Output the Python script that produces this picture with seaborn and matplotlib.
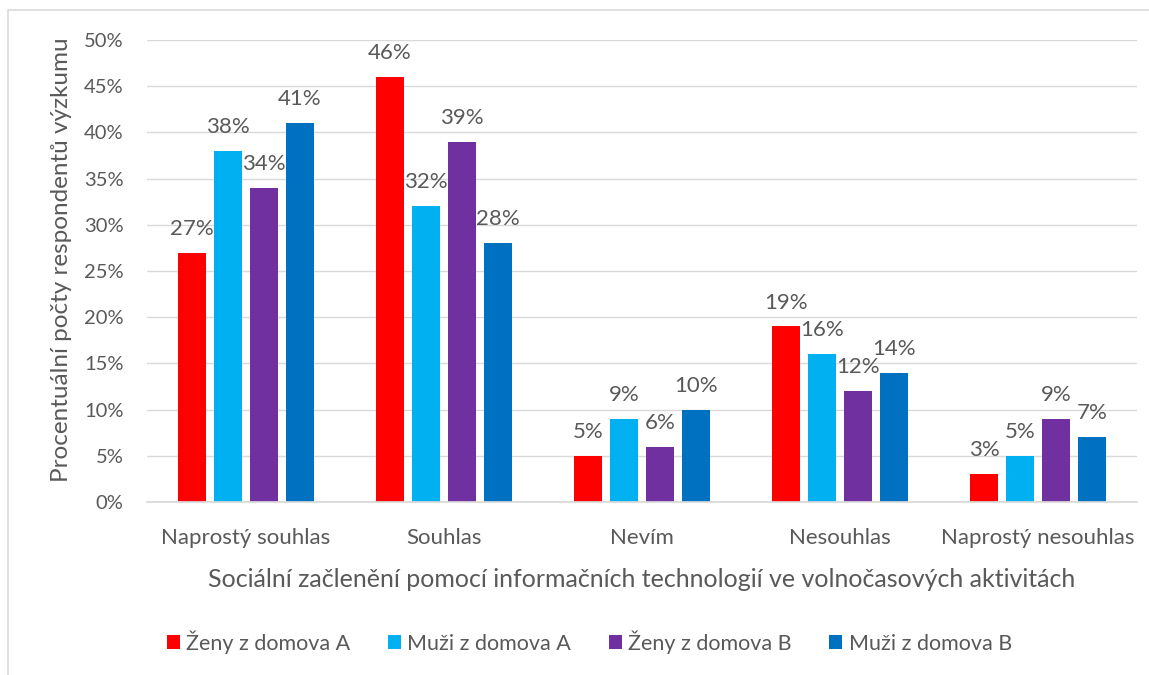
import matplotlib
matplotlib.use("Agg")
import matplotlib.pyplot as plt
import seaborn as sns
import pandas as pd
from matplotlib.patches import Rectangle
from matplotlib.ticker import FuncFormatter

categories = ["Naprostý souhlas", "Souhlas", "Nevím", "Nesouhlas", "Naprostý nesouhlas"]
series_names = ["Ženy z domova A", "Muži z domova A", "Ženy z domova B", "Muži z domova B"]
zeny_a = [27, 46, 5, 19, 3]
muzi_a = [38, 32, 9, 16, 5]
zeny_b = [34, 39, 6, 12, 9]
muzi_b = [41, 28, 10, 14, 7]
colors = ["#FF0000", "#00B0F0", "#7030A0", "#0070C0"]

rows = []
for name, vals in zip(series_names, [zeny_a, muzi_a, zeny_b, muzi_b]):
    for c, v in zip(categories, vals):
        rows.append({"cat": c, "series": name, "val": v})
df = pd.DataFrame(rows)

sns.set_theme(style="white")
plt.rcParams["font.family"] = ["Lato", "DejaVu Sans"]
text_color = "#595959"
fs = 16

fig = plt.figure(figsize=(11.49, 6.75), dpi=100)
ax = fig.add_axes([0.128, 0.2563, 0.8616, 0.6844])

sns.barplot(data=df, x="cat", y="val", hue="series", order=categories,
            hue_order=series_names, palette=colors, width=0.727, gap=0.22,
            ax=ax, legend=True, saturation=1, linewidth=0)

ax.set_ylim(0, 50)
ax.set_yticks(range(0, 51, 5))
ax.yaxis.set_major_formatter(FuncFormatter(lambda v, p: f"{int(v)}%"))
ax.grid(axis="y", color="#D9D9D9", linewidth=1)
ax.set_axisbelow(True)
for s in ["top", "right", "left"]:
    ax.spines[s].set_visible(False)
ax.spines["bottom"].set_color("#D9D9D9")
ax.tick_params(axis="x", length=0, colors=text_color, labelsize=fs, pad=19)
ax.tick_params(axis="y", length=0, colors=text_color, labelsize=14.5, pad=17)
ax.set_xlim(-0.5, 4.5)

for cont in ax.containers:
    ax.bar_label(cont, labels=[f"{int(v)}%" for v in cont.datavalues],
                 padding=10, color=text_color, fontsize=fs)

ax.set_xlabel("Sociální začlenění pomocí informačních technologií ve volnočasových aktivitách",
              fontsize=18, color=text_color, labelpad=14)
ax.set_ylabel("Procentuální počty respondentů výzkumu", fontsize=17.5, color=text_color)
ax.yaxis.set_label_coords(-0.076, 0.524)

leg = ax.legend(loc="center", bbox_to_anchor=(0.513, 0.0489), bbox_transform=fig.transFigure,
                ncol=4, frameon=False, fontsize=15.5, handlelength=0.6, handleheight=0.6,
                handletextpad=0.3, columnspacing=1.75)
for t in leg.get_texts():
    t.set_color(text_color)

fig.patches.append(Rectangle((8/1149, -0.1), 1.2, 1 - 10/675 + 0.1, transform=fig.transFigure,
                             fill=False, edgecolor="#D9D9D9", linewidth=1.2))

fig.savefig("out.png", dpi=100)
